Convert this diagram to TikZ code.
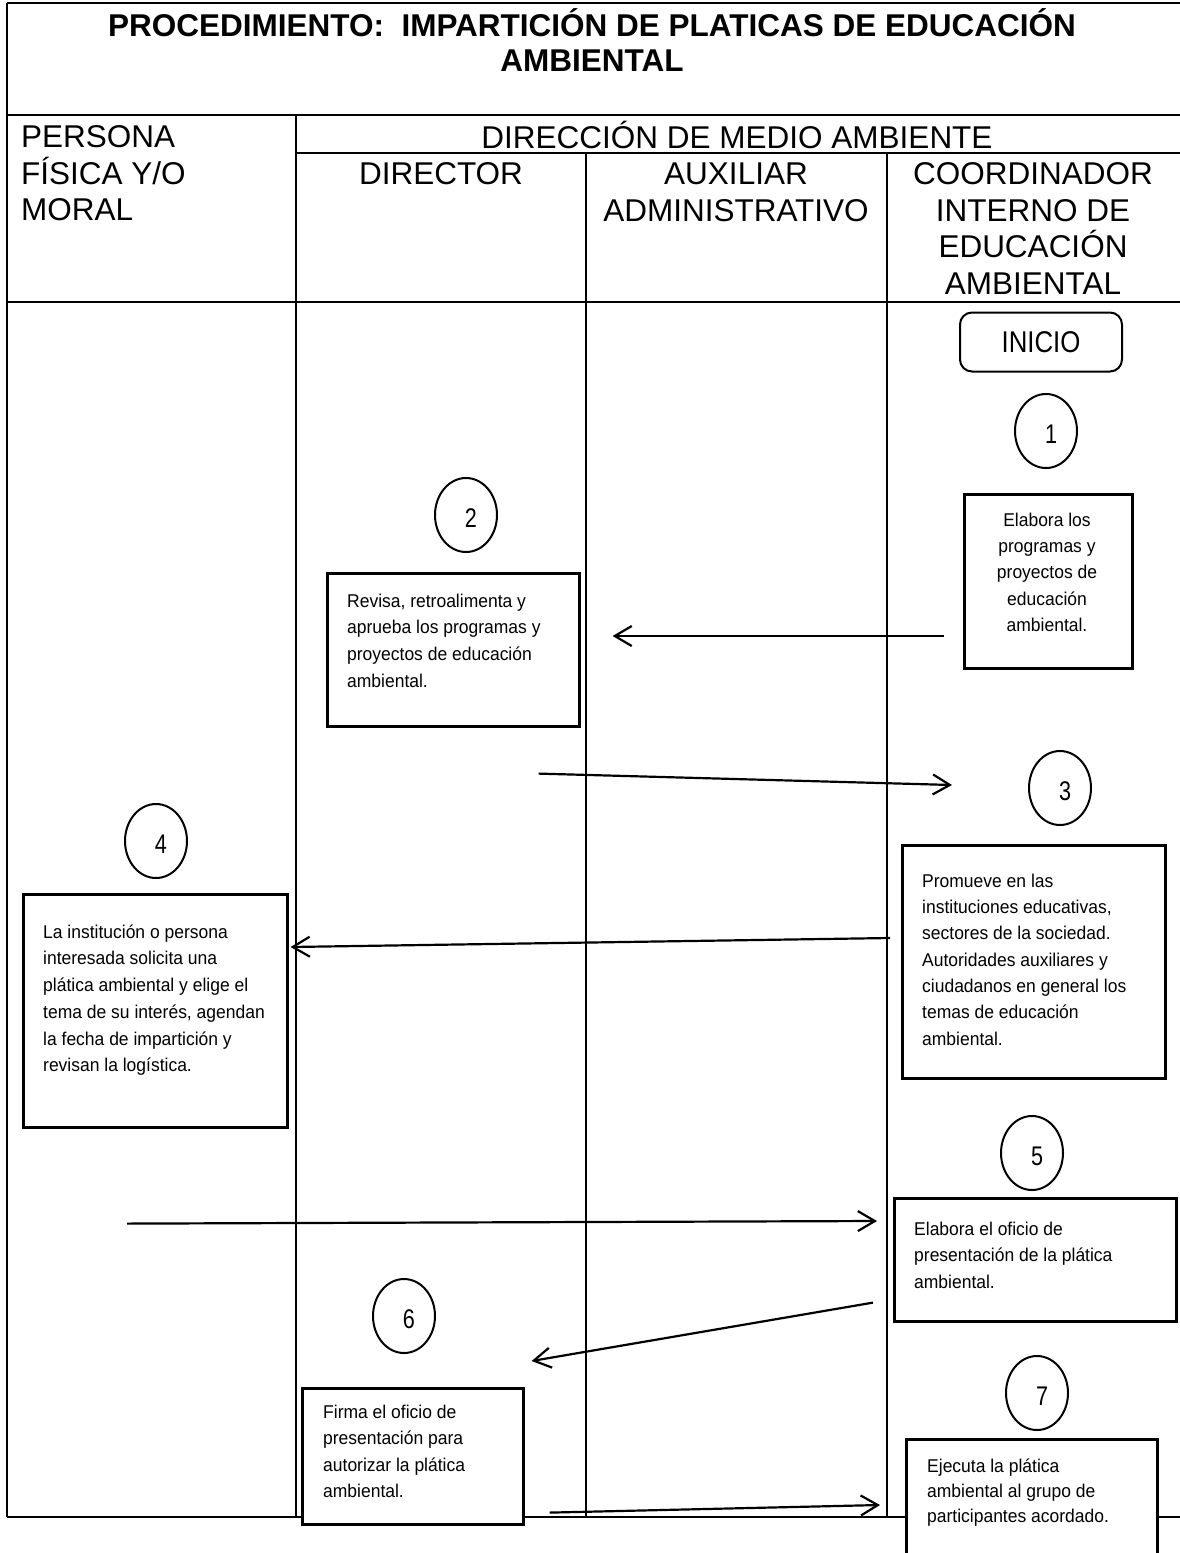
\documentclass[tikz,border=0pt]{standalone}
\usepackage{fontspec}
\setmainfont{Liberation Sans}
\newfontfamily\bodyfont[FakeStretch=0.945]{Liberation Sans}
\newfontfamily\numfont[FakeStretch=0.8]{Liberation Sans}
\newfontfamily\startfont[FakeStretch=0.86]{Liberation Sans}
\usetikzlibrary{shapes.geometric,arrows.meta,calc}
% zero-width strut that fixes the height of a first line at 1em
\newcommand\firstline{\rule{0pt}{1em}}

\begin{document}
\begin{tikzpicture}[x=1pt,y=-1pt,
  frame/.style={line width=2.8pt},
  title/.style={inner sep=0pt, anchor=north, align=center,
    font=\bfseries\fontsize{31.5}{35}\selectfont},
  lane/.style={inner sep=0pt, anchor=north, align=center,
    font=\fontsize{31.5}{36.5}\selectfont},
  stepbox/.style={draw, line width=2.6pt, fill=white, inner sep=0pt,
    anchor=north west},
  txt/.style={inner sep=0pt, anchor=north west, align=left,
    font=\bodyfont\fontsize{18.5}{26.7}\selectfont},
  startbox/.style={draw, line width=2pt, rounded corners=12pt, inner sep=0pt,
    minimum width=162pt, minimum height=59pt,
    font=\startfont\fontsize{30}{32}\selectfont},
  num/.style={draw, ellipse, line width=2pt, minimum width=62pt,
    minimum height=74pt, inner sep=0pt, fill=white},
  numtxt/.style={xshift=5pt, yshift=-3pt, inner sep=0pt,
    font=\numfont\fontsize{27}{30}\selectfont},
  arr/.style={-{Straight Barb[length=17pt,width=20pt]}, line width=2.2pt},
]
\useasboundingbox (0,0) rectangle (1179,1553);

% ---- table frame ----
\draw[frame] (7,3) -- (1183,3);
\draw[frame] (7,3) -- (7,1517);
\draw[frame] (7,115) -- (1183,115);
\draw[frame] (296,115) -- (296,1517);
\draw[frame] (296,153) -- (1183,153);
\draw[frame] (586,153) -- (586,1517);
\draw[frame] (887,153) -- (887,1517);
\draw[frame] (7,302) -- (1183,302);
\draw[frame] (7,1517) -- (1183,1517);

% ---- title and lane headings ----
\node[title] (ttl) at (592,4.5)
  {\firstline PROCEDIMIENTO:\ \ IMPARTICIÓN DE PLATICAS DE EDUCACIÓN\\AMBIENTAL};
\node[lane, anchor=north west, align=left] (lpers) at (21,116)
  {\firstline PERSONA\\FÍSICA Y/O\\MORAL};
\node[lane] (ldir) at (737,117) {\firstline DIRECCIÓN DE MEDIO AMBIENTE};
\node[lane] (ldirector) at (441,153) {\firstline DIRECTOR};
\node[lane] (laux) at (736,153) {\firstline AUXILIAR\\ADMINISTRATIVO};
\node[lane] (lcoord) at (1033,153)
  {\firstline COORDINADOR\\INTERNO DE\\EDUCACIÓN\\AMBIENTAL};

% ---- start ----
\node[startbox] (ini) at (1041,342) {INICIO};

% ---- step numbers ----
\node[num, label={[numtxt]center:1}] (c1) at (1046,431) {};
\node[num, label={[numtxt]center:2}] (c2) at (466,515) {};
\node[num, label={[numtxt]center:3}] (c3) at (1060,788) {};
\node[num, label={[numtxt]center:4}] (c4) at (156,841) {};
\node[num, label={[numtxt]center:5}] (c5) at (1032,1153) {};
\node[num, label={[numtxt]center:6}] (c6) at (404,1316) {};
\node[num, label={[numtxt]center:7}] (c7) at (1037,1393) {};

% ---- step boxes ----
\node[stepbox, minimum width=168pt, minimum height=174pt] (b1) at (963,493) {};
\node[txt, anchor=north, align=center,
  font=\bodyfont\fontsize{18.5}{26.3}\selectfont] (t1) at (1047,507.5)
  {\firstline Elabora los\\programas y\\proyectos de\\educación\\ambiental.};

\node[stepbox, minimum width=252pt, minimum height=153pt] (b2) at (326,572) {};
\node[txt] (t2) at (347,588.5)
  {\firstline Revisa, retroalimenta y\\aprueba los programas y\\proyectos de educación\\ambiental.};

\node[stepbox, minimum width=263pt, minimum height=233pt] (b3) at (901,844) {};
\node[txt, font=\bodyfont\fontsize{18.5}{26.3}\selectfont] (t3) at (922,868.5)
  {\firstline Promueve en las\\instituciones educativas,\\sectores de la sociedad.\\Autoridades auxiliares y\\ciudadanos en general los\\temas de educación\\ambiental.};

\node[stepbox, minimum width=264pt, minimum height=233pt] (b4) at (22,893) {};
\node[txt] (t4) at (43,919.5)
  {\firstline La institución o persona\\interesada solicita una\\plática ambiental y elige el\\tema de su interés, agendan\\la fecha de impartición y\\revisan la logística.};

\node[stepbox, minimum width=282pt, minimum height=123pt] (b5) at (893,1197) {};
\node[txt] (t5) at (914,1216.5)
  {\firstline Elabora el oficio de\\presentación de la plática\\ambiental.};

\node[stepbox, minimum width=221pt, minimum height=136pt] (b6) at (301,1387) {};
\node[txt, font=\bodyfont\fontsize{18.5}{26.5}\selectfont] (t6) at (323,1399.5)
  {\firstline Firma el oficio de\\presentación para\\autorizar la plática\\ambiental.};

\node[stepbox, minimum width=251pt, minimum height=160pt] (b7) at (905,1438) {};
\node[txt, font=\bodyfont\fontsize{18.5}{25}\selectfont] (t7) at (927,1453.5)
  {\firstline Ejecuta la plática\\ambiental al grupo de\\participantes acordado.};

% ---- flow ----
\draw[arr] ($(b1.north west)+(-19,143)$) -- ($(b2.north east)+(32,64)$);
\draw[arr] ($(b2.south east)+(-42,46)$) -- ($(c3.west)+(-76,-3)$);
\draw[arr] ($(b3.north west)+(-11,94)$) -- ($(b4.north east)+(2,54)$);
\draw[arr] ($(b4.south west)+(105,95)$) -- ($(b5.north west)+(-16,24)$);
\draw[arr] ($(b5.south west)+(-20,-20)$) -- ($(b6.north east)+(7,-26)$);
\draw[arr] ($(b6.south east)+(25,-13)$) -- ($(b7.north west)+(-25,67)$);
\end{tikzpicture}
\end{document}
